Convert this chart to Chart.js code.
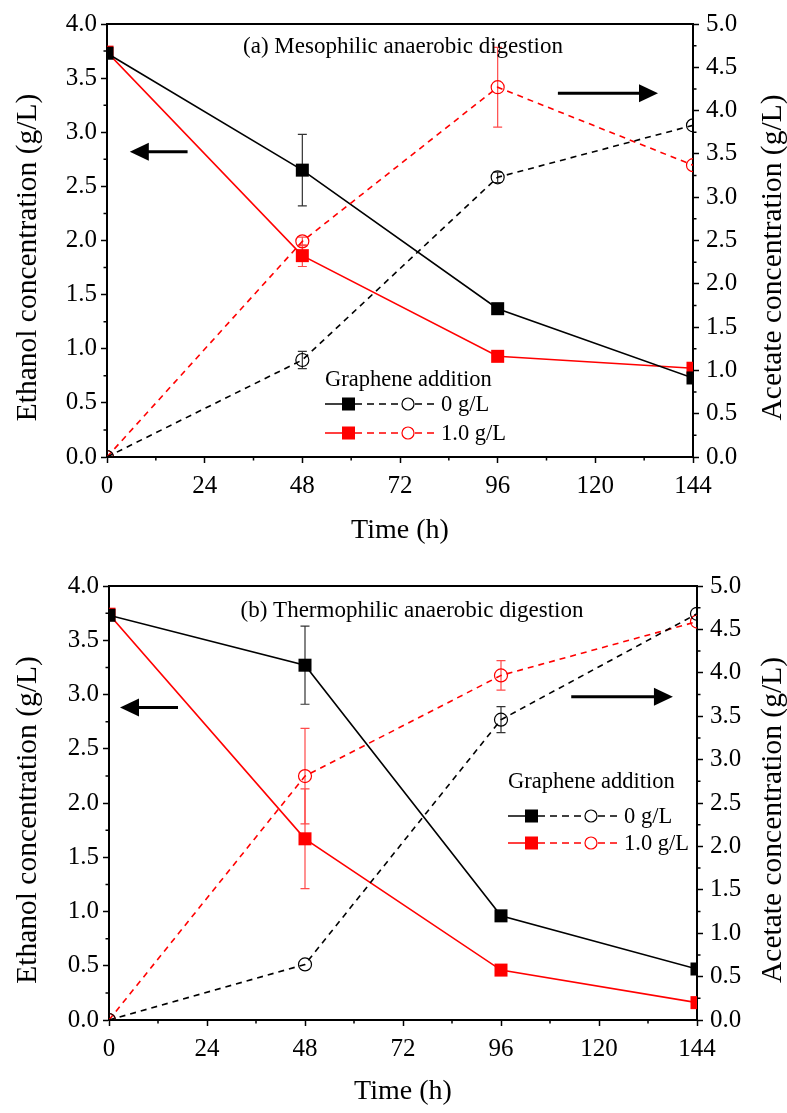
<!DOCTYPE html>
<html>
<head>
<meta charset="utf-8">
<script src="https://cdn.jsdelivr.net/npm/chart.js@4.4.0/dist/chart.umd.min.js"></script>
<style>
  body { margin: 0; background: #fff; }
  canvas { display: block; }
</style>
</head>
<body>
<canvas id="chartA" width="787" height="556"></canvas>
<canvas id="chartB" width="787" height="557"></canvas>
<script>
const hours = [0, 48, 96, 144];
const xTicks = [0, 24, 48, 72, 96, 120, 144];
const ethanolTicks = [0, 0.5, 1, 1.5, 2, 2.5, 3, 3.5, 4];
const acetateTicks = [0, 0.5, 1, 1.5, 2, 2.5, 3, 3.5, 4, 4.5, 5];
const legendTitle = 'Graphene addition';
const legendLabels = ['0 g/L', '1.0 g/L'];

// (a) mesophilic
const mesoEthanolCtl = [3.73, 2.65, 1.37, 0.73];
const mesoEthanolCtlErr = [0, 0.33, 0, 0];
const mesoEthanolGr = [3.74, 1.86, 0.93, 0.82];
const mesoEthanolGrErr = [0, 0.1, 0, 0];
const mesoAcetateCtl = [0, 1.12, 3.23, 3.83];
const mesoAcetateCtlErr = [0, 0.1, 0.06, 0];
const mesoAcetateGr = [0, 2.49, 4.27, 3.37];
const mesoAcetateGrErr = [0, 0.05, 0.46, 0];

// (b) thermophilic
const thermoEthanolCtl = [3.73, 3.27, 0.96, 0.47];
const thermoEthanolCtlErr = [0, 0.36, 0, 0];
const thermoEthanolGr = [3.74, 1.67, 0.46, 0.16];
const thermoEthanolGrErr = [0, 0.46, 0, 0];
const thermoAcetateCtl = [0, 0.64, 3.46, 4.68];
const thermoAcetateCtlErr = [0, 0, 0.15, 0];
const thermoAcetateGr = [0, 2.81, 3.97, 4.59];
const thermoAcetateGrErr = [0, 0.55, 0.17, 0];

const FONT = '"Liberation Serif", "Times New Roman", serif';
const RED = '#ff0000';

function points(vals) {
    return hours.map((h, i) => ({x: h, y: vals[i]}));
}

function buildDatasets(ethCtl, ethCtlErr, ethGr, ethGrErr, acCtl, acCtlErr, acGr, acGrErr) {
    const eth = (vals, err, color, errColor) => ({
        data: points(vals), errors: err, errorColor: errColor, yAxisID: 'y',
        borderColor: color, backgroundColor: color, borderWidth: 1.6,
        pointStyle: 'rect', pointRadius: 9.2, pointBorderWidth: 0
    });
    const ac = (vals, err, color, errColor) => ({
        data: points(vals), errors: err, errorColor: errColor, yAxisID: 'y1',
        borderColor: color, backgroundColor: 'rgba(0,0,0,0)', borderWidth: 1.6, borderDash: [6, 5],
        pointStyle: 'circle', pointRadius: 6.5, pointBorderWidth: 1.2, pointBorderColor: color
    });
    return [
        ac(acCtl, acCtlErr, '#000', '#333'),
        ac(acGr, acGrErr, RED, '#ff4a4a'),
        eth(ethCtl, ethCtlErr, '#000', '#333'),
        eth(ethGr, ethGrErr, RED, '#ff4a4a')
    ];
}

function drawArrow(ctx, x1, x2, y) {
    const dir = Math.sign(x2 - x1);
    ctx.save();
    ctx.strokeStyle = '#000';
    ctx.fillStyle = '#000';
    ctx.lineWidth = 3;
    ctx.beginPath();
    ctx.moveTo(x1, y);
    ctx.lineTo(x2 - dir * 14, y);
    ctx.stroke();
    ctx.beginPath();
    ctx.moveTo(x2, y);
    ctx.lineTo(x2 - dir * 19, y - 9);
    ctx.lineTo(x2 - dir * 19, y + 9);
    ctx.closePath();
    ctx.fill();
    ctx.restore();
}

function drawLegendRow(ctx, x0, y, color, label) {
    ctx.save();
    ctx.strokeStyle = color;
    ctx.fillStyle = color;
    ctx.lineWidth = 1.5;
    ctx.beginPath();
    ctx.moveTo(x0, y);
    ctx.lineTo(x0 + 18, y);
    ctx.stroke();
    ctx.fillRect(x0 + 17, y - 6.5, 13, 13);
    ctx.setLineDash([7, 5]);
    ctx.beginPath();
    ctx.moveTo(x0 + 30, y);
    ctx.lineTo(x0 + 76, y);
    ctx.moveTo(x0 + 90, y);
    ctx.lineTo(x0 + 112, y);
    ctx.stroke();
    ctx.setLineDash([]);
    ctx.lineWidth = 1.2;
    ctx.beginPath();
    ctx.arc(x0 + 83, y, 6, 0, Math.PI * 2);
    ctx.stroke();
    ctx.fillStyle = '#000';
    ctx.font = '22.5px ' + FONT;
    ctx.textBaseline = 'middle';
    ctx.fillText(label, x0 + 116, y + 1);
    ctx.restore();
}

function drawVerticalTitle(ctx, text, x, y) {
    ctx.save();
    ctx.fillStyle = '#000';
    ctx.font = '29.5px ' + FONT;
    ctx.textAlign = 'center';
    ctx.textBaseline = 'middle';
    ctx.translate(x, y);
    ctx.rotate(-Math.PI / 2);
    ctx.fillText(text, 0, 0);
    ctx.restore();
}

const extras = {
    id: 'extras',
    beforeDatasetsDraw(chart) {
        const ctx = chart.ctx;
        const xs = chart.scales.x;
        chart.data.datasets.forEach(ds => {
            const ys = chart.scales[ds.yAxisID];
            ctx.save();
            ctx.strokeStyle = ds.errorColor;
            ctx.lineWidth = 1.2;
            ds.data.forEach((p, j) => {
                const e = ds.errors[j];
                if (!e) return;
                const x = xs.getPixelForValue(p.x);
                const y1 = ys.getPixelForValue(p.y - e);
                const y2 = ys.getPixelForValue(p.y + e);
                ctx.beginPath();
                ctx.moveTo(x, y1); ctx.lineTo(x, y2);
                ctx.moveTo(x - 4.5, y1); ctx.lineTo(x + 4.5, y1);
                ctx.moveTo(x - 4.5, y2); ctx.lineTo(x + 4.5, y2);
                ctx.stroke();
            });
            ctx.restore();
        });
    },
    afterDraw(chart, args, opts) {
        const ctx = chart.ctx;
        const area = chart.chartArea;
        const xs = chart.scales.x, ys = chart.scales.y, ys1 = chart.scales.y1;

        // top frame line
        ctx.save();
        ctx.strokeStyle = '#000';
        ctx.lineWidth = 2;
        ctx.beginPath();
        ctx.moveTo(area.left - 1, area.top);
        ctx.lineTo(area.right + 1, area.top);
        ctx.stroke();

        // minor ticks
        ctx.lineWidth = 1.5;
        ctx.beginPath();
        for (let t = 12; t < 144; t += 24) {
            const x = xs.getPixelForValue(t);
            ctx.moveTo(x, area.bottom);
            ctx.lineTo(x, area.bottom + 3.5);
        }
        for (let v = 0.25; v < 4; v += 0.5) {
            const y = ys.getPixelForValue(v);
            ctx.moveTo(area.left, y);
            ctx.lineTo(area.left - 3.5, y);
        }
        for (let v = 0.25; v < 5; v += 0.5) {
            const y = ys1.getPixelForValue(v);
            ctx.moveTo(area.right, y);
            ctx.lineTo(area.right + 3.5, y);
        }
        ctx.stroke();
        ctx.restore();

        // y axis titles, both read bottom to top
        const midY = (area.top + area.bottom) / 2 + 17;
        drawVerticalTitle(ctx, 'Ethanol concentration (g/L)', 28, midY);
        drawVerticalTitle(ctx, 'Acetate concentration (g/L)', 773, midY);

        // panel title
        ctx.save();
        ctx.fillStyle = '#000';
        ctx.font = '23px ' + FONT;
        ctx.textAlign = 'center';
        ctx.textBaseline = 'middle';
        ctx.fillText(opts.title, opts.titleX, area.top + opts.titleDy);
        ctx.restore();

        // arrows, placed in data units
        opts.arrows.forEach(a => {
            drawArrow(ctx, xs.getPixelForValue(a.from), xs.getPixelForValue(a.to), ys.getPixelForValue(a.at));
        });

        // legend
        const lg = opts.legend;
        ctx.save();
        ctx.fillStyle = '#000';
        ctx.font = '22.5px ' + FONT;
        ctx.textBaseline = 'middle';
        ctx.fillText(legendTitle, lg.x, lg.y);
        ctx.restore();
        drawLegendRow(ctx, lg.x, lg.y + lg.row1, '#000', legendLabels[0]);
        drawLegendRow(ctx, lg.x, lg.y + lg.row2, RED, legendLabels[1]);
    }
};

function buildScales(lay) {
    const tickFont = {family: FONT, size: 25};
    const grid = {drawOnChartArea: false, tickLength: 6, tickWidth: 1.5, tickColor: '#000'};
    const border = {color: '#000', width: 2};
    return {
        x: {
            type: 'linear', min: 0, max: 144,
            afterBuildTicks: s => { s.ticks = xTicks.map(v => ({value: v})); },
            ticks: {font: tickFont, color: '#000', padding: 8, maxRotation: 0, autoSkip: false},
            grid: grid, border: border,
            title: {display: true, text: 'Time (h)', color: '#000', font: {family: FONT, size: 28}, padding: {top: 0, bottom: lay.xTitlePad}},
            afterFit: s => { s.height = lay.xHeight; }
        },
        y: {
            position: 'left', min: 0, max: 4,
            afterBuildTicks: s => { s.ticks = ethanolTicks.map(v => ({value: v})); },
            ticks: {font: tickFont, color: '#000', padding: 4, callback: v => v.toFixed(1), autoSkip: false},
            grid: grid, border: border,
            afterFit: s => { s.width = lay.leftWidth; }
        },
        y1: {
            position: 'right', min: 0, max: 5,
            afterBuildTicks: s => { s.ticks = acetateTicks.map(v => ({value: v})); },
            ticks: {font: tickFont, color: '#000', padding: 7, callback: v => v.toFixed(1), autoSkip: false},
            grid: grid, border: border,
            afterFit: s => { s.width = lay.rightWidth; }
        }
    };
}

function buildChart(id, datasets, lay, extraOpts) {
    return new Chart(document.getElementById(id), {
        type: 'line',
        data: {datasets: datasets},
        plugins: [extras],
        options: {
            responsive: false,
            animation: false,
            devicePixelRatio: 1,
            layout: {padding: {top: lay.top, left: 0, right: 0, bottom: 0}},
            scales: buildScales(lay),
            plugins: {legend: {display: false}, tooltip: {enabled: false}, extras: extraOpts}
        }
    });
}

buildChart('chartA',
    buildDatasets(mesoEthanolCtl, mesoEthanolCtlErr, mesoEthanolGr, mesoEthanolGrErr,
        mesoAcetateCtl, mesoAcetateCtlErr, mesoAcetateGr, mesoAcetateGrErr),
    {top: 24, xHeight: 99, leftWidth: 107, rightWidth: 94, xTitlePad: 9},
    {
        title: '(a) Mesophilic anaerobic digestion', titleX: 403, titleDy: 23,
        arrows: [{from: 19.8, to: 5.6, at: 2.82}, {from: 110.8, to: 135.4, at: 3.36}],
        legend: {x: 325, y: 380, row1: 24, row2: 53}
    });

buildChart('chartB',
    buildDatasets(thermoEthanolCtl, thermoEthanolCtlErr, thermoEthanolGr, thermoEthanolGrErr,
        thermoAcetateCtl, thermoAcetateCtlErr, thermoAcetateGr, thermoAcetateGrErr),
    {top: 30, xHeight: 93, leftWidth: 109, rightWidth: 90, xTitlePad: 5},
    {
        title: '(b) Thermophilic anaerobic digestion', titleX: 412, titleDy: 25,
        arrows: [{from: 16.9, to: 2.7, at: 2.88}, {from: 113.2, to: 138.1, at: 2.98}],
        legend: {x: 508, y: 226, row1: 34, row2: 61}
    });
</script>
</body>
</html>
